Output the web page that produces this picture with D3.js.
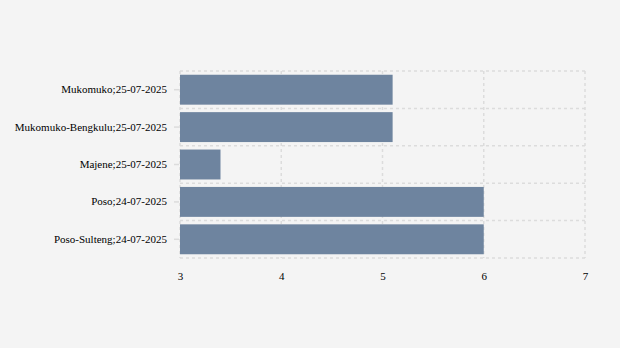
<!DOCTYPE html>
<html>
<head>
<meta charset="utf-8">
<script src="https://cdn.jsdelivr.net/npm/d3@7"></script>
<style>
  body { margin: 0; background: #f4f4f4; }
  svg { display: block; }
  .grid line { stroke: #dcdcdc; stroke-width: 1.5; stroke-dasharray: 3,3; fill: none; }
  .axis text { font-family: "Liberation Serif", "Times New Roman", serif; font-size: 11px; fill: #000; }
</style>
</head>
<body>
<svg id="chart"></svg>
<script>
// data
var categories = ["Mukomuko;25-07-2025", "Mukomuko-Bengkulu;25-07-2025", "Majene;25-07-2025", "Poso;24-07-2025", "Poso-Sulteng;24-07-2025"];
var values = [5.1, 5.1, 3.4, 6.0, 6.0];
var xTicks = [3, 4, 5, 6, 7];

var W = 620, H = 348;
var margin = { top: 71, right: 35, bottom: 90, left: 180 },
    width = W - margin.left - margin.right,
    height = H - margin.top - margin.bottom;

var svg = d3.select("#chart")
    .attr("width", W)
    .attr("height", H)
    .append("g")
    .attr("transform", "translate(" + margin.left + "," + margin.top + ")");

var x = d3.scaleLinear().domain([3, 7]).range([0, width]);
var y = d3.scaleBand().domain(categories).range([0, height]).paddingInner(0.2).paddingOuter(0.1);

// vertical grid
svg.append("g").attr("class", "grid")
    .selectAll("line").data(xTicks).enter().append("line")
    .attr("x1", d => x(d)).attr("x2", d => x(d))
    .attr("y1", 0).attr("y2", height);

// horizontal grid at band boundaries
var bounds = d3.range(categories.length + 1).map(i => i * height / categories.length);
svg.append("g").attr("class", "grid")
    .selectAll("line").data(bounds).enter().append("line")
    .attr("x1", 0).attr("x2", width)
    .attr("y1", d => d).attr("y2", d => d);

// bars
svg.selectAll(".bar")
    .data(categories)
    .enter().append("rect")
    .attr("class", "bar")
    .attr("x", x(3))
    .attr("y", d => y(d))
    .attr("width", (d, i) => x(values[i]) - x(3))
    .attr("height", y.bandwidth())
    .style("fill", "#6e849f");

// y axis
var yAxis = svg.append("g")
    .attr("class", "axis")
    .call(d3.axisLeft(y).tickSize(5).tickPadding(8));
yAxis.attr("font-family", null).attr("font-size", null);
yAxis.select(".domain").remove();
yAxis.selectAll(".tick line").attr("stroke", "#dcdcdc").attr("stroke-width", 1.5).attr("transform", "translate(-1,0)");

// x axis
var xAxis = svg.append("g")
    .attr("class", "axis")
    .attr("transform", "translate(0," + height + ")")
    .call(d3.axisBottom(x).tickValues(xTicks).tickSize(0).tickPadding(14).tickFormat(d3.format("d")));
xAxis.attr("font-family", null).attr("font-size", null);
xAxis.select(".domain").remove();
</script>
</body>
</html>
